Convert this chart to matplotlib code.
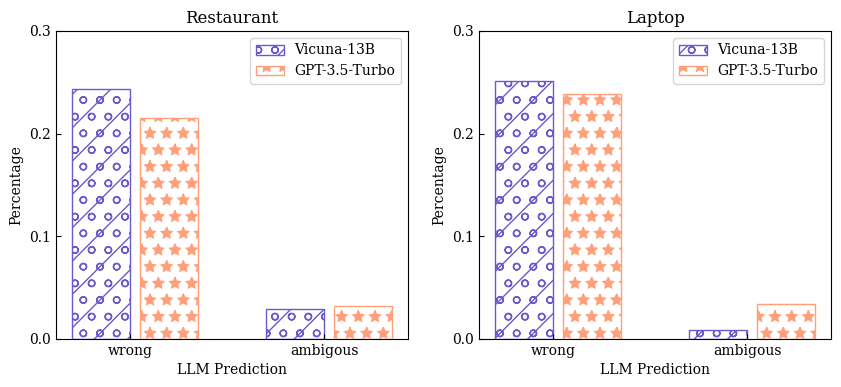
import matplotlib
matplotlib.use("Agg")
import matplotlib.pyplot as plt
import numpy as np

plt.rcParams['font.family'] = 'DejaVu Serif'

categories = ["wrong", "ambigous"]
series_names = ["Vicuna-13B", "GPT-3.5-Turbo"]
restaurant_vicuna = [0.2435, 0.029]
restaurant_gpt = [0.215, 0.032]
laptop_vicuna = [0.251, 0.009]
laptop_gpt = [0.239, 0.034]
yticks = [0.0, 0.1, 0.2, 0.3]

colors = ["#6A5ACD", "#FFA07A"]
hatches = ["/o", "*"]

fig = plt.figure(figsize=(8.41, 3.87), dpi=100)
ax1 = fig.add_axes([56/841, 1-339/387, (408-56)/841, (339-31)/387])
ax2 = fig.add_axes([479/841, 1-339/387, (831-479)/841, (339-31)/387])

x = np.arange(len(categories))
w = 0.3
for ax, title, v, g in [(ax1, "Restaurant", restaurant_vicuna, restaurant_gpt),
                        (ax2, "Laptop", laptop_vicuna, laptop_gpt)]:
    ax.bar(x, v, width=-w, align='edge', facecolor='white', edgecolor=colors[0],
           hatch=hatches[0], label=series_names[0], linewidth=1)
    ax.bar(x + 0.05, g, width=w, align='edge', facecolor='white', edgecolor=colors[1],
           hatch=hatches[1], label=series_names[1], linewidth=1)
    ax.set_xticks(x)
    ax.set_xticklabels(categories)
    ax.set_yticks(yticks)
    ax.set_ylim(0, 0.3)
    ax.tick_params(direction='in')
    ax.set_title(title, fontsize=12)
    ax.set_ylabel("Percentage")
    ax.set_xlabel("LLM Prediction")
    ax.legend(loc='upper right')

fig.savefig("out.png", dpi=100)
